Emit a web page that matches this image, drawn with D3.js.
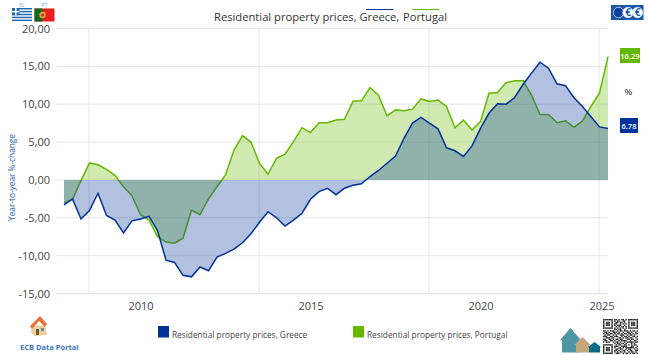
<!DOCTYPE html>
<html>
<head>
<meta charset="utf-8">
<script src="https://cdn.jsdelivr.net/npm/d3@7"></script>
<style>
body { margin: 0; background: #fff; }
svg { display: block; font-family: "Open Sans", sans-serif; }
.axis text { font-size: 11px; fill: #444; font-family: "Open Sans", sans-serif; }
.axis .domain, .axis line { display: none; }
</style>
</head>
<body>
<svg id="chart"></svg>
<script>
// DATA /////////////////////////////////////////////////////////////////////

var quarters = [
    "2009Q1","2009Q2","2009Q3","2009Q4","2010Q1","2010Q2","2010Q3","2010Q4",
    "2011Q1","2011Q2","2011Q3","2011Q4","2012Q1","2012Q2","2012Q3","2012Q4",
    "2013Q1","2013Q2","2013Q3","2013Q4","2014Q1","2014Q2","2014Q3","2014Q4",
    "2015Q1","2015Q2","2015Q3","2015Q4","2016Q1","2016Q2","2016Q3","2016Q4",
    "2017Q1","2017Q2","2017Q3","2017Q4","2018Q1","2018Q2","2018Q3","2018Q4",
    "2019Q1","2019Q2","2019Q3","2019Q4","2020Q1","2020Q2","2020Q3","2020Q4",
    "2021Q1","2021Q2","2021Q3","2021Q4","2022Q1","2022Q2","2022Q3","2022Q4",
    "2023Q1","2023Q2","2023Q3","2023Q4","2024Q1","2024Q2","2024Q3","2024Q4",
    "2025Q1"
];

var greece = [
    -3.3,-2.5,-5.15,-4.05,-1.76,-4.7,-5.3,-7.0,-5.4,-5.15,-4.8,-6.7,-10.6,-10.9,-12.6,-12.8,
    -11.5,-12.0,-10.2,-9.7,-9.15,-8.3,-7.1,-5.6,-4.2,-5.0,-6.1,-5.3,-4.4,-2.55,-1.55,-1.1,
    -1.95,-1.1,-0.7,-0.5,0.45,1.25,2.2,3.15,5.5,7.5,8.25,7.5,6.75,4.25,3.85,3.1,
    4.5,6.8,8.8,10.05,10.0,10.85,12.6,14.1,15.55,14.75,12.7,12.45,10.85,9.7,8.35,7.0,
    6.78
];

var portugal = [
    -3.0,-2.6,-0.1,2.25,2.0,1.4,0.6,-0.9,-2.1,-4.6,-5.3,-7.5,-8.2,-8.35,-7.7,-4.0,
    -4.6,-2.5,-0.9,0.65,3.95,5.85,5.0,2.2,0.75,2.85,3.4,5.05,6.9,6.25,7.55,7.55,
    7.9,8.0,10.4,10.45,12.2,11.2,8.45,9.25,9.15,9.35,10.7,10.35,10.55,9.7,6.9,7.9,
    6.6,7.7,11.45,11.55,12.85,13.1,13.1,11.2,8.65,8.65,7.55,7.8,6.95,7.8,9.7,11.5,
    16.29
];

var yTicks = [-15, -10, -5, 0, 5, 10, 15, 20];
var gridQuarters = ["2009Q4", "2014Q4", "2019Q4", "2024Q4"];
var labelQuarters = ["2011Q2", "2016Q2", "2021Q2", "2024Q4"];
var yearLabels = ["2010", "2015", "2020", "2025"];

var qrRows = [
    "1111111011010110101111111",
    "1000001010110011001000001",
    "1011101001101101001011101",
    "1011101011001010101011101",
    "1011101010111001001011101",
    "1000001001010110101000001",
    "1111111010101010101111111",
    "0000000011011001000000000",
    "1101011100101101110101101",
    "0110100111010010011010010",
    "1011011010110101101101011",
    "0101100101001110010110100",
    "1110011011100101101001101",
    "0011101100011010110110010",
    "1100110101101100011011001",
    "0110011010010111100100110",
    "1011100101101001011111011",
    "0000000010110110100010100",
    "1111111001011001101010110",
    "1000001011100111100011001",
    "1011101010011010111111010",
    "1011101001101100101100101",
    "1011101011010011010110011",
    "1000001010101101001011010",
    "1111111001110010110101101"
];

// SETUP ////////////////////////////////////////////////////////////////////

const WIDTH = 649, HEIGHT = 355;
const BLUE = "#003299", GREEN = "#65b800";

var svg = d3.select("#chart").attr("width", WIDTH).attr("height", HEIGHT);

var x = d3.scalePoint().domain(quarters).range([64, 608]);
var y = d3.scaleLinear().domain([-15, 20]).range([293.5, 28.5]);

var commaLocale = d3.formatLocale({ decimal: ",", thousands: ".", grouping: [3], currency: ["", ""], minus: "-" });

// GRID /////////////////////////////////////////////////////////////////////

svg.append("g").selectAll("line")
    .data(yTicks)
    .enter().append("line")
    .attr("x1", 56).attr("x2", 608)
    .attr("y1", function (d) { return y(d); })
    .attr("y2", function (d) { return y(d); })
    .attr("stroke", "#e6e6e6")
    .attr("stroke-width", function (d) { return d === -15 ? 1.5 : 1; });

svg.append("g").selectAll("line")
    .data(gridQuarters)
    .enter().append("line")
    .attr("x1", function (d) { return x(d) - 0.5; })
    .attr("x2", function (d) { return x(d) - 0.5; })
    .attr("y1", y(20)).attr("y2", y(-15))
    .attr("stroke", "#e6e6e6");

// SERIES ///////////////////////////////////////////////////////////////////

var area = d3.area()
    .x(function (d, i) { return x(quarters[i]); })
    .y0(y(0))
    .y1(function (d) { return y(d); });

var line = d3.line()
    .x(function (d, i) { return x(quarters[i]); })
    .y(function (d) { return y(d); });

// portugal goes first, the blue area sits on top of its line
function drawSeries(values, colour) {
    svg.append("path").datum(values)
        .attr("d", area)
        .attr("fill", colour)
        .attr("fill-opacity", 0.3);
    svg.append("path").datum(values)
        .attr("d", line)
        .attr("fill", "none")
        .attr("stroke", colour)
        .attr("stroke-width", 1.5);
}

drawSeries(portugal, GREEN);
drawSeries(greece, BLUE);

// AXES /////////////////////////////////////////////////////////////////////

svg.append("g")
    .attr("class", "axis")
    .attr("transform", "translate(50,0)")
    .call(d3.axisLeft(y).tickValues(yTicks).tickSize(0).tickPadding(0).tickFormat(commaLocale.format(".2f")));

var xAxis = svg.append("g")
    .attr("class", "axis")
    .attr("transform", "translate(0,298)")
    .call(d3.axisBottom(x).tickValues(labelQuarters).tickSize(0).tickPadding(4)
        .tickFormat(function (d, i) { return yearLabels[i]; }));
xAxis.selectAll("text").attr("dx", function (d, i) { return i === 3 ? 2 : 0; });

svg.append("text")
    .attr("transform", "translate(15,177.5) rotate(-90)")
    .attr("text-anchor", "middle")
    .style("font-size", "8.3px")
    .style("fill", "#2a62b5")
    .text("Year-to-year %-change");

// TITLE ////////////////////////////////////////////////////////////////////

svg.append("text")
    .attr("x", 214).attr("y", 21)
    .style("font-size", "11.2px")
    .style("fill", "#333")
    .text("Residential property prices, Greece,");

svg.append("text")
    .attr("x", 403).attr("y", 21)
    .style("font-size", "11.2px")
    .style("fill", "#333")
    .text("Portugal");

svg.append("line").attr("x1", 366).attr("x2", 393.5).attr("y1", 9.5).attr("y2", 9.5).attr("stroke", BLUE);
svg.append("line").attr("x1", 412).attr("x2", 439).attr("y1", 9.5).attr("y2", 9.5).attr("stroke", GREEN);

// LAST VALUE TAGS //////////////////////////////////////////////////////////

function valueTag(top, w, colour, label) {
    svg.append("rect").attr("x", 620).attr("y", top).attr("width", w).attr("height", 15).attr("fill", colour);
    svg.append("text")
        .attr("x", 620 + w / 2).attr("y", top + 10.5)
        .attr("text-anchor", "middle")
        .style("font-size", "7.6px").style("font-weight", 600)
        .style("fill", "#fff")
        .text(label);
}

valueTag(48, 20, GREEN, d3.format(".2f")(portugal[portugal.length - 1]));
valueTag(118, 18, BLUE, d3.format(".2f")(greece[greece.length - 1]));

svg.append("text")
    .attr("x", 628.5).attr("y", 94.5)
    .attr("text-anchor", "middle")
    .style("font-size", "9px").style("font-weight", 600)
    .style("fill", "#555")
    .text("%");

// LEGEND ///////////////////////////////////////////////////////////////////

function legendItem(px, colour, label) {
    svg.append("rect").attr("x", px).attr("y", 326).attr("width", 11).attr("height", 11.5).attr("fill", colour);
    svg.append("text")
        .attr("x", px + 14).attr("y", 337.5)
        .style("font-size", "8.3px")
        .style("fill", "#444")
        .text(label);
}

legendItem(158, BLUE, "Residential property prices, Greece");
legendItem(353, GREEN, "Residential property prices, Portugal");

// FLAGS ////////////////////////////////////////////////////////////////////

var flagText = [["EL", 22], ["PT", 44.5]];
svg.append("g").selectAll("text")
    .data(flagText)
    .enter().append("text")
    .attr("x", function (d) { return d[1]; })
    .attr("y", 7)
    .attr("text-anchor", "middle")
    .style("font-size", "5px")
    .style("fill", "#7aa9dc")
    .text(function (d) { return d[0]; });

var greekFlag = svg.append("g").attr("transform", "translate(12,8)");
greekFlag.append("rect").attr("width", 20).attr("height", 13).attr("fill", "#fff");
d3.range(5).forEach(function (i) {
    greekFlag.append("rect").attr("y", i * 2.9).attr("width", 20).attr("height", 1.45).attr("fill", "#1c66b8");
});
greekFlag.append("rect").attr("width", 7.5).attr("height", 7.2).attr("fill", "#1c66b8");
greekFlag.append("rect").attr("x", 3).attr("width", 1.5).attr("height", 7.2).attr("fill", "#fff");
greekFlag.append("rect").attr("y", 2.9).attr("width", 7.5).attr("height", 1.5).attr("fill", "#fff");

var ptFlag = svg.append("g").attr("transform", "translate(34.5,8.5)");
ptFlag.append("rect").attr("width", 20).attr("height", 13).attr("fill", "#e8201c");
ptFlag.append("rect").attr("width", 8).attr("height", 13).attr("fill", "#0d6b1f");
ptFlag.append("circle").attr("cx", 8).attr("cy", 6.5).attr("r", 3.2).attr("fill", "#d9a441");
ptFlag.append("circle").attr("cx", 8).attr("cy", 6.5).attr("r", 1.5).attr("fill", "#b5342c");

// ECB LOGO /////////////////////////////////////////////////////////////////

var logo = svg.append("g").attr("transform", "translate(611,5)");
logo.append("rect").attr("width", 32.5).attr("height", 15).attr("fill", "#1a56a8");
var logoRings = [[7.5, 5.2], [17, 5.2], [26.5, 5.2]];
logo.selectAll("circle")
    .data(logoRings)
    .enter().append("circle")
    .attr("cx", function (d) { return d[0]; })
    .attr("cy", 7.5)
    .attr("r", function (d) { return d[1]; })
    .attr("fill", function (d, i) { return i === 0 ? "#0d3f9e" : "#fff"; })
    .attr("stroke", "#cfe0f5")
    .attr("stroke-width", 0.8);
logo.selectAll("text")
    .data(["€", "€"])
    .enter().append("text")
    .attr("x", function (d, i) { return 17 + i * 9.5; })
    .attr("y", 11)
    .attr("text-anchor", "middle")
    .style("font-size", "10px").style("font-weight", 700)
    .style("fill", "#1a56a8")
    .text(function (d) { return d; });

// FOOTER ICONS /////////////////////////////////////////////////////////////

var houseSmall = svg.append("g").attr("transform", "translate(30,316)");
houseSmall.append("polygon").attr("points", "2,9 15,10 17,19 5,20 1,17").attr("fill", "#e9cf9a");
houseSmall.append("polygon").attr("points", "0,10 10,0 17,8 15,11 9,5 2,13").attr("fill", "#e8703a");
houseSmall.append("rect").attr("x", 6).attr("y", 13).attr("width", 3).attr("height", 6).attr("fill", "#6e5a3a");
houseSmall.append("rect").attr("x", 11).attr("y", 12).attr("width", 3).attr("height", 3).attr("fill", "#6e8a8a");

svg.append("text")
    .attr("x", 20).attr("y", 350)
    .style("font-size", "7.5px").style("font-weight", 700)
    .style("fill", "#3a78c4")
    .text("ECB Data Portal");

function house(px, py, w, h, colour) {
    svg.append("polygon")
        .attr("points", [[px - w * 0.12, py + h * 0.5], [px + w * 0.5, py], [px + w * 1.12, py + h * 0.5],
            [px + w, py + h * 0.5], [px + w, py + h], [px, py + h], [px, py + h * 0.5]].join(" "))
        .attr("fill", colour);
}

house(562, 328, 17, 24.5, "#4d96a3");
house(576, 337, 13, 15.5, "#c4a67a");
house(589, 342, 11, 10.5, "#0f6a86");

var qrCell = 1.4;
svg.append("g").attr("transform", "translate(603,319)")
    .selectAll("rect")
    .data(d3.merge(qrRows.map(function (row, r) {
        return row.split("").map(function (c, k) { return { r: r, k: k, on: c === "1" }; });
    })).filter(function (d) { return d.on; }))
    .enter().append("rect")
    .attr("x", function (d) { return d.k * qrCell; })
    .attr("y", function (d) { return d.r * qrCell; })
    .attr("width", qrCell).attr("height", qrCell)
    .attr("fill", "#222");
</script>
</body>
</html>
